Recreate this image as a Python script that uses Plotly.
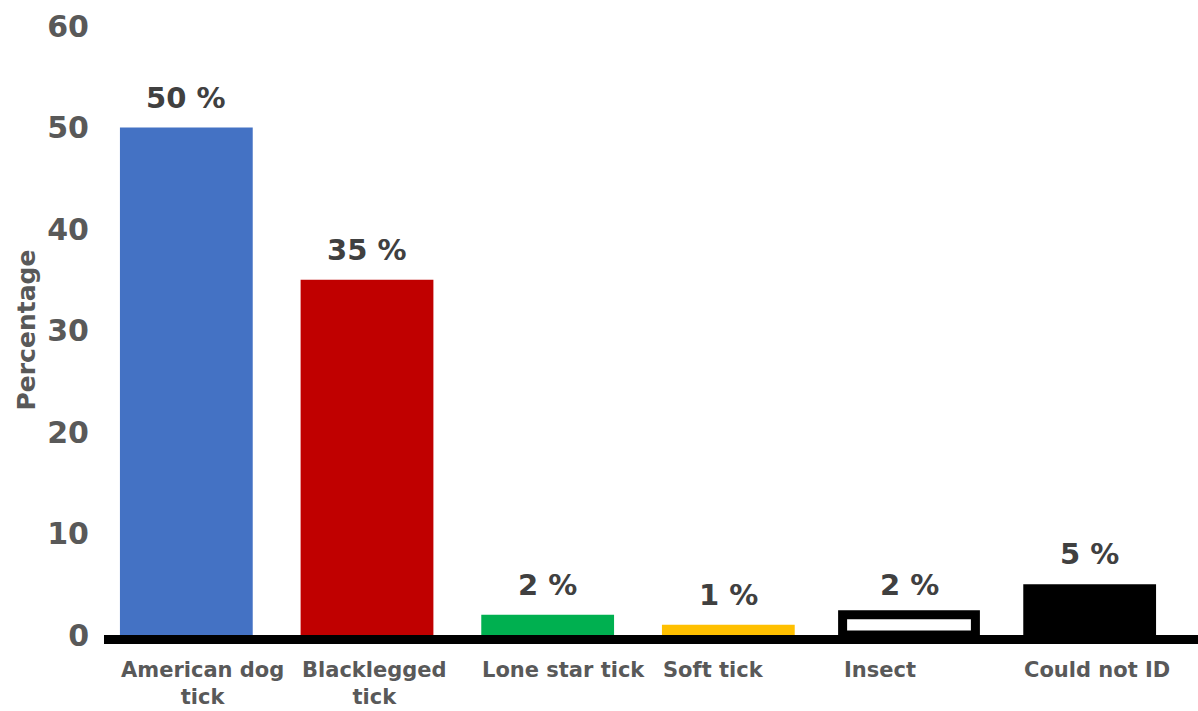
import plotly.graph_objects as go

categories = ["American dog<br>tick", "Blacklegged<br>tick", "Lone star tick", "Soft tick", "Insect", "Could not ID"]
values = [50, 35, 2, 1, 2, 5]
labels = ["50 %", "35 %", "2 %", "1 %", "2 %", "5 %"]
fills = ["#4472C4", "#C00000", "#00B050", "#FFC000", "#FFFFFF", "#000000"]
outlines = ["#4472C4", "#C00000", "#00B050", "#FFC000", "#000000", "#000000"]
outline_w = [0, 0, 0, 0, 9, 0]

FONT = "DejaVu Sans"
W, H = 1198, 711
ML, MR, MT, MB = 96, 18, 26, 76
PW, PH = W - ML - MR, H - MT - MB
BAR_W = 0.735

fig = go.Figure()
fig.add_trace(go.Bar(
    x=categories, y=values,
    marker=dict(color=fills, line=dict(color=outlines, width=outline_w)),
    width=BAR_W,
    hoverinfo="skip",
))

# value labels above bars
for c, v, t in zip(categories, values, labels):
    fig.add_annotation(x=c, y=v, text="<b>%s</b>" % t, showarrow=False,
                       yanchor="bottom", yshift=11,
                       font=dict(family=FONT, size=29, color="#404040"))

# category labels, left-aligned to each bar's left edge
half_bar_px = BAR_W / 2 * PW / 6
for c in categories:
    fig.add_annotation(x=c, xref="x", yref="paper", y=0, text="<b>%s</b>" % c,
                       showarrow=False, xanchor="left", yanchor="top", align="center",
                       xshift=-half_bar_px - 1, yshift=-21,
                       font=dict(family=FONT, size=21, color="#595959"))

# y axis title
fig.add_annotation(xref="paper", yref="paper", x=(26 - ML) / PW, y=0.5,
                   text="<b>Percentage</b>", textangle=-90, showarrow=False,
                   xanchor="center", yanchor="middle",
                   font=dict(family=FONT, size=25, color="#595959"))

# thick baseline
fig.add_shape(type="line", xref="paper", yref="paper",
              x0=(104 - ML) / PW, x1=(W - ML) / PW,
              y0=-4.5 / PH, y1=-4.5 / PH,
              line=dict(color="#000000", width=9))

fig.update_layout(
    width=W, height=H,
    margin=dict(l=ML, r=MR, t=MT, b=MB, autoexpand=False),
    plot_bgcolor="white", paper_bgcolor="white",
    showlegend=False,
    font=dict(family=FONT),
)
fig.update_xaxes(
    range=[-0.5, 5.5], showgrid=False, showline=False, ticks="", automargin=False,
    showticklabels=False,
)
fig.update_yaxes(
    range=[0, 60], dtick=10, showgrid=False, zeroline=False, showline=False,
    ticks="", automargin=False,
    tickfont=dict(family=FONT, size=30, color="#595959"),
    ticklabelstandoff=6,
    tickprefix="<b>", ticksuffix="</b>",
)

fig.write_html("out.html")
